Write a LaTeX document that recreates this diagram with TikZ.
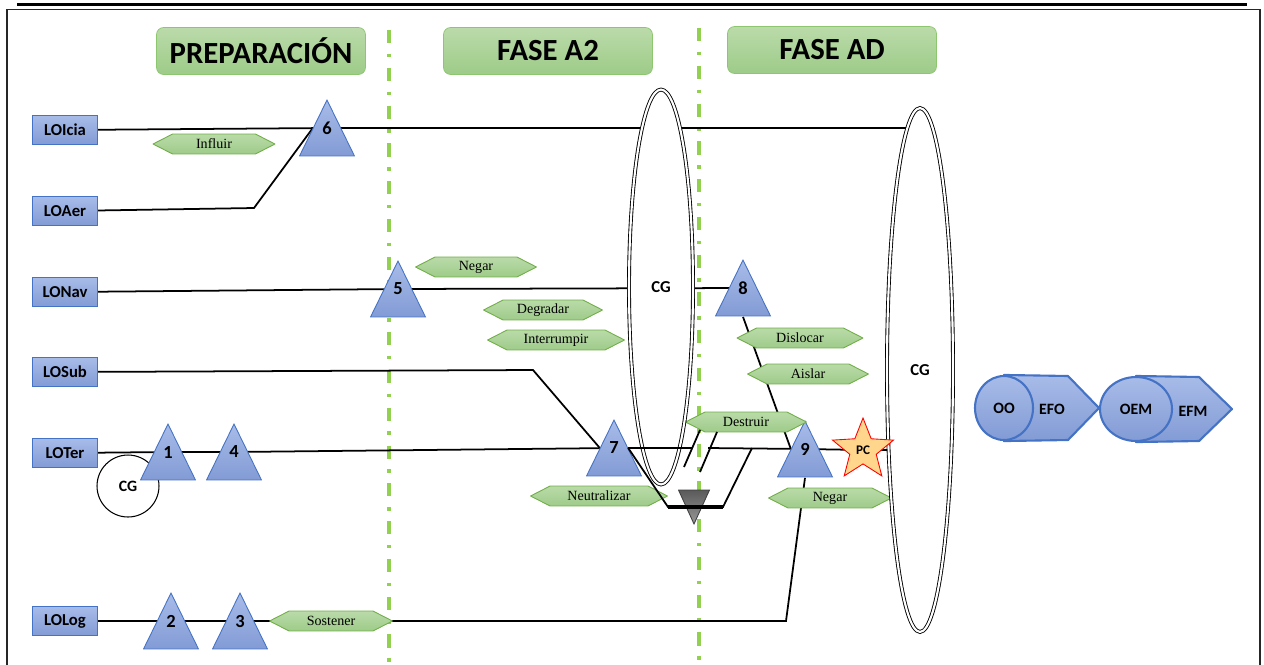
\documentclass[tikz,border=0pt]{standalone}
\usepackage{fontspec}
\setmainfont{Liberation Serif}
\newfontfamily\calibri{Carlito}
\usepackage{tikz}
\usetikzlibrary{shapes.geometric,calc,backgrounds}
\definecolor{loblue}{RGB}{68,114,196}
\definecolor{bluetop}{RGB}{168,188,232}
\definecolor{bluebot}{RGB}{130,155,213}
\definecolor{greentop}{RGB}{187,219,170}
\definecolor{greenbot}{RGB}{157,203,136}
\definecolor{hexedge}{RGB}{112,173,71}
\definecolor{titleedge}{RGB}{140,198,110}
\definecolor{phase}{RGB}{146,208,80}
\definecolor{pcfill}{RGB}{255,214,140}

\begin{document}
\begin{tikzpicture}[x=0.02cm,y=-0.02cm,
  cal/.style={font=\calibri\bfseries\fontsize{#1}{#1}\selectfont},
  link/.style={line width=1pt},
  phaseline/.style={draw=phase,line width=2.3pt,dash pattern=on 7.5pt off 6pt on 2pt off 6pt},
  phasebox/.style={draw=titleedge,top color=greentop,bottom color=greenbot,rounded corners=4pt,
    minimum width=4.18cm,minimum height=0.94cm,cal=17.5},
  lo/.style={draw=loblue,top color=bluetop,bottom color=bluebot,minimum width=1.3cm,
    minimum height=0.58cm,inner sep=0pt,cal=9.5},
  tri/.style={minimum width=1.12cm,minimum height=1.14cm,inner sep=0pt,cal=10.5,
    path picture={\shade[top color=bluetop,bottom color=bluebot,draw=loblue,line width=0.5pt]
      ([shift={(0.3pt,0.3pt)}]path picture bounding box.south west)
      -- ([yshift=-0.3pt]path picture bounding box.north)
      -- ([shift={(-0.3pt,0.3pt)}]path picture bounding box.south east) -- cycle;}},
  sink/.style={minimum width=0.64cm,minimum height=0.7cm,inner sep=0pt,
    path picture={\shade[top color=black!65,bottom color=black!40,draw=black!75,line width=0.5pt]
      ([shift={(0.3pt,-0.3pt)}]path picture bounding box.north west)
      -- ([shift={(-0.3pt,-0.3pt)}]path picture bounding box.north east)
      -- ([yshift=0.3pt]path picture bounding box.south) -- cycle;}},
  act/.style={minimum width=#1,minimum height=0.42cm,inner sep=0pt,font=\fontsize{8}{9}\selectfont,
    path picture={\shade[top color=greentop,bottom color=greenbot,draw=hexedge,line width=0.5pt]
      ([xshift=0.3pt]path picture bounding box.west)
      -- ([shift={(0.4cm,-0.3pt)}]path picture bounding box.north west)
      -- ([shift={(-0.4cm,-0.3pt)}]path picture bounding box.north east)
      -- ([xshift=-0.3pt]path picture bounding box.east)
      -- ([shift={(-0.4cm,0.3pt)}]path picture bounding box.south east)
      -- ([shift={(0.4cm,0.3pt)}]path picture bounding box.south west) -- cycle;}},
  cg/.style={ellipse,draw,double,double distance=1.2pt,line width=0.5pt,fill=white,inner sep=0pt,cal=9.5},
  obj/.style={ellipse,draw=loblue,line width=1.2pt,top color=bluetop,bottom color=bluebot,inner sep=0pt,cal=9},
  objbody/.style={draw=loblue,line width=1.2pt,top color=bluetop,bottom color=bluebot,line join=round}]
\useasboundingbox (0,0) rectangle (1264,664);

\draw[line width=1.7pt] (17,4) -- (1247,4);
\draw[black!85,line width=1pt] (7,680) -- (7,9.5) -- (1260,9.5) -- (1260,680);

\node[phasebox] (prep) at (261,51) {PREPARACIÓN};
\node[phasebox] (fa2) at (548,51) {FASE A2};
\node[phasebox] (fad) at (832,50) {FASE AD};

\node[lo] (loicia) at (65,130) {LOIcia};
\node[lo] (loaer) at (65,211) {LOAer};
\node[lo] (lonav) at (65,292) {LONav};
\node[lo] (losub) at (65,372) {LOSub};
\node[lo] (loter) at (65,453) {LOTer};
\node[lo] (lolog) at (65,621) {LOLog};

\node[draw,circle,fill=white,line width=0.6pt,minimum size=1.24cm,inner sep=0pt,cal=9] (cgT) at (128,486) {CG};

\node[tri] (t1) at (168,452) {1};
\node[tri] (t2) at (171,621) {2};
\node[tri] (t3) at (240,621) {3};
\node[tri] (t4) at (234,452) {4};
\node[tri] (t5) at (398,289) {5};
\node[tri] (t6) at (327,128) {6};
\node[tri] (t7) at (614,448) {7};
\node[tri] (t8) at (743,288) {8};
\node[tri] (t9) at (805,449) {9};

\node[act=2.46cm] (influir) at (214,144) {Influir};
\node[act=2.44cm] (negarA) at (476,267) {Negar};
\node[act=2.4cm] (degradar) at (543,310) {Degradar};
\node[act=2.76cm] (interrumpir) at (556,340) {Interrumpir};
\node[act=2.76cm] (neutralizar) at (599,496) {Neutralizar};
\node[act=2.44cm] (destruir) at (746,422) {Destruir};
\node[act=2.54cm] (dislocar) at (800,338) {Dislocar};
\node[act=2.44cm] (aislar) at (808,374) {Aislar};
\node[act=2.48cm] (negarB) at (830,498) {Negar};
\node[act=2.48cm] (sostener) at (331,621) {Sostener};

\node[cg,minimum width=1.28cm,minimum height=7.9cm] (cgA) at (661,287) {CG};
\node[cg,minimum width=1.32cm,minimum height=10.48cm] (cgB) at (920,370) {CG};

\node[star,star points=5,star point ratio=2.3,minimum size=1.28cm,inner sep=0pt,
  fill=pcfill,draw=red,line width=0.5pt,cal=7.5] (pc) at (863,450) {PC};
\node[sink] (sink) at (694,507) {};

\node[obj,minimum width=1.16cm,minimum height=1.28cm] (oo) at (1004,408) {OO};
\node[obj,minimum width=1.44cm,minimum height=1.28cm] (oem) at (1136,409) {OEM};
\node[cal=9] (efo) at (1052,409) {EFO};
\node[cal=9] (efm) at (1193,411) {EFM};

\coordinate (aerbend) at (254,208);
\coordinate (subbend) at (533,370);
\coordinate (logbend) at (786,621);
\coordinate (cut1) at (692,448);
\coordinate (cut2) at (708,448);
\coordinate (tr1) at (668,507);
\coordinate (tr2) at (723,507);
\coordinate (tr3) at (752,448);
\coordinate (stubA) at (684,467);
\coordinate (stubB) at (700,430);
\coordinate (stubC) at (700,472);
\coordinate (stubD) at (717,432);

\begin{scope}[on background layer]
\draw[phaseline] (389,30) -- (389,664);
\draw[phaseline] (699,28) -- (699,664);
\draw[link] (loicia) -- (t6.center) -- (t6 -| cgB);
\draw[link] (loaer) -- (aerbend) -- ($(t6.west)!.5!(t6.center)$);
\draw[link] (lonav) -- (t5.center) -- (t8.center);
\draw[link] (losub) -- (subbend) -- ($(t7.west)!.5!(t7.center)$);
\draw[link] (loter) -- (t1.center) -- (t4.center) -- (t7.center);
\draw[link] (t8.south) -- ($(t9.west)!.5!(t9.center)$);
\draw[link] (cut2) -- (t9.center) -- (pc.center) -- (pc -| cgB);
\draw[link] (lolog) -- (t2.center) -- (t3.center) -- (sostener.center) -- (logbend) -- (t9.south);
\draw[objbody] (oo.north) -- (1068,376) -- (1099,408) -- (1068,440) -- (oo.south) -- cycle;
\draw[objbody] (oem.north) -- (1199,377) -- (1232,409) -- (1199,441) -- (oem.south) -- cycle;
\end{scope}

\draw[link] ($(t7.east)!.5!(t7.center)$) -- (cut1);
\draw[link] ($(t7.east)!.5!(t7.center)$) -- (tr1) -- (tr2) -- (tr3);
\draw[line width=2pt] (tr1) -- (tr2);
\draw[link] (stubA) -- (stubB);
\draw[link] (stubC) -- (stubD);
\end{tikzpicture}
\end{document}
